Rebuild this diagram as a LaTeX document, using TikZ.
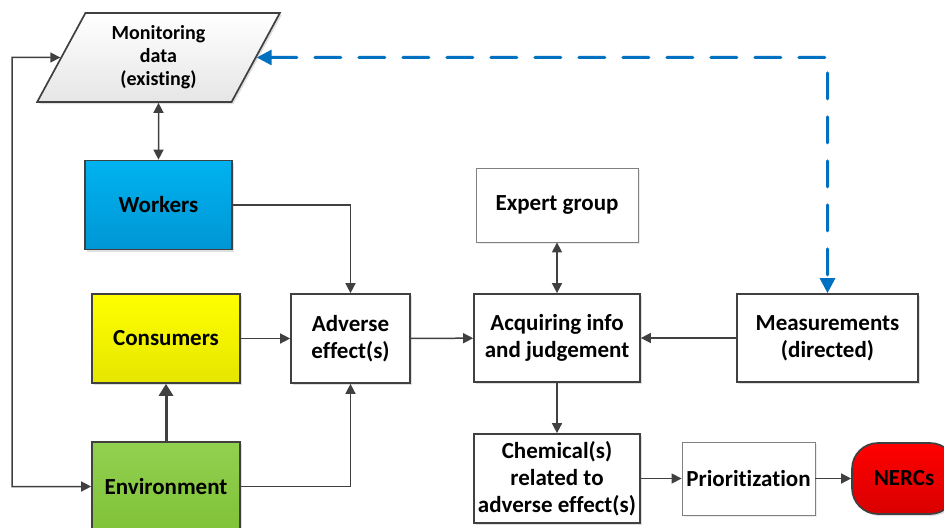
\documentclass[tikz,border=0pt]{standalone}
\usepackage{fontspec}
\setmainfont{Carlito}[Ligatures=NoCommon]
\usetikzlibrary{shapes.geometric,shadows,arrows.meta}

\definecolor{edgegray}{RGB}{64,64,64}
\definecolor{dashblue}{RGB}{0,112,192}

\begin{document}
\begin{tikzpicture}[x=1pt,y=-1pt,
    box/.style={rectangle,draw=edgegray,line width=1.7pt,align=center,
      font=\bfseries\fontsize{23}{27}\selectfont,
      drop shadow={shadow xshift=2pt,shadow yshift=-2pt,opacity=0.25}},
    lightbox/.style={rectangle,draw=gray,line width=0.8pt,fill=white,align=center,
      font=\bfseries\fontsize{23}{27}\selectfont,
      drop shadow={shadow xshift=2pt,shadow yshift=-2pt,opacity=0.15}},
    conn/.style={draw=edgegray,line width=1.5pt,>={Triangle[length=10pt,width=10pt]}},
    thickconn/.style={draw=edgegray,line width=3pt,>={Triangle[length=12pt,width=14pt]}},
    dashconn/.style={draw=dashblue,line width=3pt,line cap=round,dash pattern=on 26pt off 18pt,
      >={Triangle[length=15pt,width=15pt]}}]
    \useasboundingbox (0,0) rectangle (944,527);

    % sources
    \node[trapezium,trapezium left angle=64,trapezium right angle=116,trapezium stretches=true,
      minimum width=243pt,minimum height=89pt,inner sep=0pt,draw=edgegray,line width=1.7pt,
      top color=white,bottom color=black!10,align=center,
      font=\bfseries\fontsize{20}{23}\selectfont,
      drop shadow={shadow xshift=2pt,shadow yshift=-2pt,opacity=0.25}]
      (mon) at (158.5,57.5) {Monitoring\\data\\(existing)};
    \node[box,minimum width=147pt,minimum height=89pt,top color={rgb,255:red,0;green,178;blue,240},bottom color={rgb,255:red,0;green,150;blue,212}]
      (wrk) at (158.5,205) {Workers};
    \node[box,minimum width=148pt,minimum height=89pt,top color=yellow,bottom color=yellow!90!black]
      (con) at (166,338.5) {Consumers};
    \node[box,minimum width=148pt,minimum height=89pt,top color={rgb,255:red,146;green,208;blue,80},bottom color={rgb,255:red,128;green,194;blue,56}]
      (env) at (166,486.5) {Environment};

    % middle column
    \node[box,minimum width=119pt,minimum height=89pt,fill=white] (adv) at (350.5,338.5) {Adverse\\effect(s)};
    \node[lightbox,minimum width=162pt,minimum height=74pt] (exp) at (557,205) {Expert group};
    \node[box,minimum width=166pt,minimum height=88pt,fill=white] (acq) at (557,338) {Acquiring info\\and judgement};
    \node[box,minimum width=181pt,minimum height=88pt,fill=white] (meas) at (827.5,338) {Measurements\\(directed)};
    \node[box,minimum width=166pt,minimum height=89pt,fill=white] (chem) at (557,478.5) {Chemical(s)\\related to\\adverse effect(s)};
    \node[lightbox,minimum width=133pt,minimum height=73pt] (prio) at (748.5,478.5) {Prioritization};
    \node[box,rounded corners=26pt,minimum width=104pt,minimum height=71pt,
      top color=red,bottom color=red!85!black] (nerc) at (904,478.5) {NERCs};

    \coordinate (loopcorner) at (12,57.5);
    \coordinate (dashcorner) at (827.5,57.5);

    % connectors
    \draw[conn,<->] (mon.west) -- (loopcorner) |- (env.west);
    \draw[conn,<->] (mon) -- (wrk);
    \draw[conn,->] (wrk.east) -| (adv.north);
    \draw[conn,->] (con) -- (adv);
    \draw[thickconn,->] (env) -- (con);
    \draw[conn,->] (env.east) -| (adv.south);
    \draw[conn,->] (adv) -- (acq);
    \draw[conn,<->] (exp) -- (acq);
    \draw[conn,->] (meas) -- (acq);
    \draw[conn,->] (acq) -- (chem);
    \draw[conn,->] (chem) -- (prio);
    \draw[conn,->] (prio) -- (nerc);
    \draw[dashconn,<->] (mon.east) -- (dashcorner) -- (meas.north);
\end{tikzpicture}
\end{document}
